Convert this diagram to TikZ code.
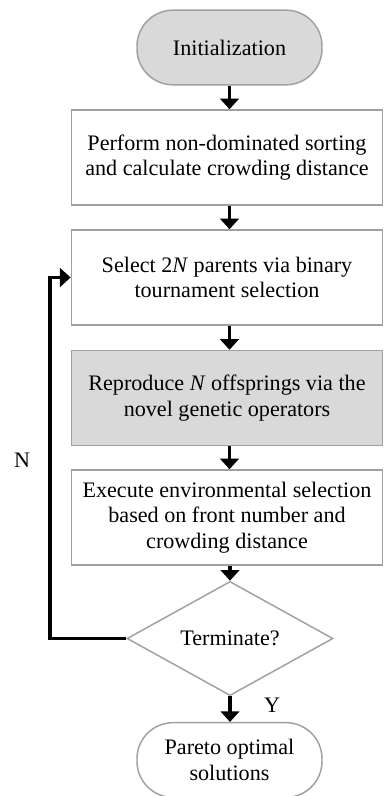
\documentclass[tikz,border=0pt]{standalone}
\usepackage{fontspec}
\setmainfont{Liberation Serif}
\usetikzlibrary{shapes.geometric,arrows.meta}
\definecolor{boxgray}{HTML}{D9D9D9}
\definecolor{edgegray}{HTML}{A0A0A0}
\begin{document}
\begin{tikzpicture}[x=0.75pt,y=-0.75pt,
  every node/.style={font=\fontsize{16.6pt}{19pt}\selectfont, align=center},
  pill/.style={draw=edgegray, line width=1.1pt, rounded corners=27pt, minimum width=138.75pt, minimum height=56pt, inner sep=0pt},
  stepbox/.style={draw=edgegray, line width=1.1pt, minimum width=233.5pt, minimum height=71.25pt, inner sep=0pt},
  decision/.style={draw=edgegray, line width=1.1pt, diamond, minimum width=154.5pt, minimum height=69.75pt, inner sep=0pt},
  flow/.style={line width=2.3pt, -{Triangle[width=14pt,length=8pt]}}
]
\useasboundingbox (0,0) rectangle (383,796);
\begin{scope}
\clip (0,0) rectangle (383,796);
\node[pill, fill=boxgray] (init) at (229.5,47.5) {Initialization};
\node[stepbox] (sort) at (227,157.5) {Perform non-dominated sorting\\and calculate crowding distance};
\node[stepbox] (sel) at (227,277.5) {Select 2\textit{N} parents via binary\\tournament selection};
\node[stepbox, fill=boxgray] (rep) at (227,398) {Reproduce \textit{N} offsprings via the\\novel genetic operators};
\node[stepbox] (env) at (227,517.5) {Execute environmental selection\\based on front number and\\crowding distance};
\node[decision] (term) at (230,638.5) {Terminate?};
\node[pill] (pareto) at (229.5,760) {Pareto optimal\\solutions};
\coordinate (c1) at (50,638.5);
\coordinate (c2) at (50,277.5);
\draw[flow] (init.south) -- (sort.north -| init.south);
\draw[flow] (sort.south -| init.south) -- (sel.north -| init.south);
\draw[flow] (sel.south -| init.south) -- (rep.north -| init.south);
\draw[flow] (rep.south -| init.south) -- (env.north -| init.south);
\draw[flow] (env.south -| term.north) -- (term.north);
\draw[flow] (term.south) -- (pareto.north -| term.south);
\draw[flow] (term.west) -- (c1) -- (c2) -- (sel.west);
\node (nlab) at (22,460) {N};
\node (ylab) at (272,705) {Y};
\end{scope}
\end{tikzpicture}
\end{document}
